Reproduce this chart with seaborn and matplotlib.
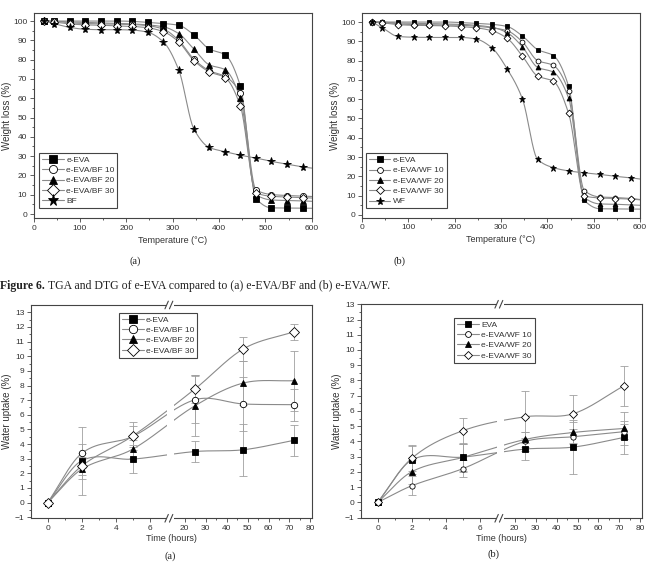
import numpy as np
import pandas as pd
import matplotlib
matplotlib.use("Agg")
import matplotlib.pyplot as plt
import seaborn as sns
from matplotlib.lines import Line2D
from matplotlib.ticker import FixedLocator, MultipleLocator

sns.set_theme(style="ticks")
plt.rcParams['font.family'] = ['Liberation Sans', 'DejaVu Sans']

# ---------------- data ----------------
# TGA: temperatures of the markers; the last value (600) is the line end only
temps = [22, 44, 78, 112, 145, 179, 213, 246, 280, 313, 346, 379, 413, 446, 480, 513, 547, 581, 600]

bf_eva   = [100, 100, 100, 100, 100, 100, 99.8, 99.3, 98.7, 97.8, 92.8, 85.5, 82.5, 66.4, 8.0, 3.2, 3.1, 3.0, 3.0]
bf_bf10  = [100, 100, 99.0, 98.7, 98.5, 98.4, 98.2, 97.6, 95.8, 90.0, 80.2, 74.3, 71.3, 62.5, 12.5, 10.1, 9.6, 9.3, 9.1]
bf_bf20  = [100, 99.8, 99.5, 99.3, 99.0, 98.8, 98.5, 98.0, 97.0, 93.5, 85.4, 77.3, 74.8, 59.9, 10.0, 7.3, 7.0, 6.8, 6.6]
bf_bf30  = [100, 99.5, 98.5, 98.0, 97.8, 97.5, 97.2, 96.5, 94.5, 89.2, 79.5, 73.7, 70.7, 56.1, 11.0, 9.2, 8.8, 8.5, 8.3]
bf_fiber = [100, 98.7, 96.7, 95.7, 95.5, 95.5, 95.3, 94.2, 89.2, 74.8, 44.0, 34.5, 32.3, 30.5, 29.0, 27.3, 25.8, 24.4, 23.8]

wf_eva   = [100, 100, 100, 100, 100, 100, 99.7, 99.3, 98.8, 97.7, 92.8, 85.7, 82.6, 66.7, 7.5, 3.2, 3.1, 3.0, 3.0]
wf_wf10  = [100, 100, 99.0, 98.7, 98.6, 98.5, 98.3, 97.8, 97.0, 95.5, 89.8, 80.0, 77.5, 64.2, 12.5, 9.3, 9.0, 8.5, 8.0]
wf_wf20  = [100, 99.8, 99.5, 99.3, 99.2, 99.0, 98.8, 98.3, 97.3, 94.5, 87.2, 76.5, 74.0, 60.5, 9.0, 5.7, 5.5, 5.2, 5.0]
wf_wf30  = [100, 99.6, 98.6, 98.3, 98.2, 98.0, 97.6, 97.0, 95.5, 91.6, 82.4, 72.0, 69.3, 52.6, 9.8, 8.8, 8.5, 8.2, 7.8]
wf_fiber = [100, 97.0, 92.5, 92.1, 92.0, 92.0, 92.0, 91.2, 86.7, 75.8, 60.3, 28.8, 24.5, 22.8, 21.8, 21.0, 20.0, 19.2, 18.6]

labels_bf = ["e-EVA", "e-EVA/BF 10", "e-EVA/BF 20", "e-EVA/BF 30", "BF"]
labels_wf = ["e-EVA", "e-EVA/WF 10", "e-EVA/WF 20", "e-EVA/WF 30", "WF"]

# Water uptake
hours = [0, 2, 5, 25, 48, 72]
wu_bf_eva  = [0, 2.86, 2.97, 3.49, 3.61, 4.25]
wu_bf_bf10 = [0, 3.36, 4.52, 7.03, 6.74, 6.69]
wu_bf_bf20 = [0, 2.28, 3.65, 6.62, 8.17, 8.33]
wu_bf_bf30 = [0, 2.50, 4.55, 7.77, 10.50, 11.67]
err_bf_eva  = [0, 0.50, 0.95, 0.72, 1.77, 1.07]
err_bf_bf10 = [0, 1.78, 0.70, 1.60, 1.85, 1.10]
err_bf_bf20 = [0, 1.75, 0.60, 2.10, 1.50, 2.05]
err_bf_bf30 = [0, 0.60, 0.95, 0.95, 0.83, 0.55]

wu_wf_eva  = [0, 2.78, 2.97, 3.50, 3.63, 4.26]
wu_wf_wf10 = [0, 1.09, 2.21, 4.00, 4.31, 4.64]
wu_wf_wf20 = [0, 2.01, 2.95, 4.13, 4.59, 4.85]
wu_wf_wf30 = [0, 2.89, 4.70, 5.62, 5.82, 7.64]
err_wf_eva  = [0, 0.90, 0.95, 0.72, 1.75, 1.10]
err_wf_wf10 = [0, 0.62, 0.55, 0.60, 0.50, 0.50]
err_wf_wf20 = [0, 0.80, 0.90, 0.50, 0.70, 1.05]
err_wf_wf30 = [0, 0.85, 0.85, 1.70, 1.20, 1.32]

labels_wu_bf = ["e-EVA", "e-EVA/BF 10", "e-EVA/BF 20", "e-EVA/BF 30"]
labels_wu_wf = ["EVA", "e-EVA/WF 10", "e-EVA/WF 20", "e-EVA/WF 30"]

# ---------------- styles ----------------
LINE = "#8a8a8a"
SPINE = "#444444"
TXT = "#333333"
marker_styles = [("s", "black"), ("o", "white"), ("^", "black"), ("D", "white"), ("*", "black")]


def hermite(x, y, m, xs):
    idx = np.clip(np.searchsorted(x, xs) - 1, 0, len(x) - 2)
    h = x[idx + 1] - x[idx]
    t = (xs - x[idx]) / h
    h00 = 2 * t**3 - 3 * t**2 + 1; h10 = t**3 - 2 * t**2 + t
    h01 = -2 * t**3 + 3 * t**2; h11 = t**3 - t**2
    return h00 * y[idx] + h10 * h * m[idx] + h01 * y[idx + 1] + h11 * h * m[idx + 1]


def pchip(x, y, xs):
    x = np.asarray(x, float); y = np.asarray(y, float)
    h = np.diff(x); d = np.diff(y) / h
    n = len(x); m = np.zeros(n)
    for k in range(1, n - 1):
        if d[k - 1] * d[k] > 0:
            w1 = 2 * h[k] + h[k - 1]; w2 = h[k] + 2 * h[k - 1]
            m[k] = (w1 + w2) / (w1 / d[k - 1] + w2 / d[k])
    def endslope(h0, h1, d0, d1):
        s = ((2 * h0 + h1) * d0 - h0 * d1) / (h0 + h1)
        if np.sign(s) != np.sign(d0):
            s = 0.0
        elif np.sign(d0) != np.sign(d1) and abs(s) > abs(3 * d0):
            s = 3 * d0
        return s
    m[0] = endslope(h[0], h[1], d[0], d[1])
    m[-1] = endslope(h[-1], h[-2], d[-1], d[-2])
    return hermite(x, y, m, xs)


def cardinal(x, y, xs):
    x = np.asarray(x, float); y = np.asarray(y, float)
    n = len(x); m = np.zeros(n)
    m[0] = (y[1] - y[0]) / (x[1] - x[0])
    m[-1] = (y[-1] - y[-2]) / (x[-1] - x[-2])
    for k in range(1, n - 1):
        m[k] = (y[k + 1] - y[k - 1]) / (x[k + 1] - x[k - 1])
    return hermite(x, y, m, xs)


def style_axes(ax):
    for s in ax.spines.values():
        s.set_color(SPINE); s.set_linewidth(0.8)
    ax.tick_params(which="both", direction="out", colors=SPINE, labelcolor=TXT,
                   labelsize=6, top=False, right=False, width=0.6)
    ax.tick_params(which="major", length=3, pad=1.5)
    ax.tick_params(which="minor", length=1.6)


def make_legend(ax, labels, styles, ms, loc, anchor):
    handles = [Line2D([], [], color=LINE, lw=0.8, marker=mk, ms=(ms * 1.4 if mk == "*" else ms),
                      mfc=fc, mec="black", mew=0.6) for mk, fc in styles]
    lg = ax.legend(handles, labels, loc=loc, bbox_to_anchor=anchor, fontsize=6,
                   frameon=True, fancybox=False, framealpha=1, edgecolor=SPINE,
                   handlelength=2.6, handletextpad=0.3, borderpad=0.35, labelspacing=0.3,
                   borderaxespad=0)
    lg.get_frame().set_linewidth(0.8)
    lg.set_zorder(20)
    for t in lg.get_texts():
        t.set_color(TXT)
    return lg


fig = plt.figure(figsize=(6.52, 5.62), dpi=100)

# ---------------- TGA panels ----------------
def tga_panel(rect, series, labels, ylim, ms, leg_anchor, leg_ms):
    ax = fig.add_axes(rect)
    xs = np.linspace(temps[0], temps[-1], 800)
    for vals, (mk, fc) in zip(series, marker_styles):
        ys = pchip(temps, vals, xs)
        sns.lineplot(x=xs, y=ys, ax=ax, color=LINE, lw=0.8, estimator=None, sort=False)
        sz = ms * 1.35 if mk == "*" else ms
        ax.plot(temps[:-1], vals[:-1], ls="none", marker=mk, ms=sz, mfc=fc, mec="black", mew=0.6, zorder=4)
    ax.set_xlim(0, 600)
    ax.set_ylim(*ylim)
    ax.xaxis.set_major_locator(MultipleLocator(100))
    ax.xaxis.set_minor_locator(MultipleLocator(50))
    ax.yaxis.set_major_locator(FixedLocator(np.arange(0, 101, 10)))
    ax.yaxis.set_minor_locator(FixedLocator(np.arange(5, 101, 10)))
    style_axes(ax)
    ax.set_xlabel("Temperature (°C)", fontsize=6.5, color=TXT, labelpad=3)
    ax.set_ylabel("Weight loss (%)", fontsize=7, color=TXT, labelpad=1)
    make_legend(ax, labels, marker_styles, leg_ms, "lower left", leg_anchor)
    return ax

tga_panel([0.0514, 0.6116, 0.4267, 0.3658], [bf_eva, bf_bf10, bf_bf20, bf_bf30, bf_fiber], labels_bf,
          (-2.2, 104.3), 4.4, (0.02, 0.05), 5.8)
tga_panel([0.5552, 0.6121, 0.4264, 0.3642], [wf_eva, wf_wf10, wf_wf20, wf_wf30, wf_fiber], labels_wf,
          (-1.6, 104.5), 3.5, (0.014, 0.047), 4.2)

# ---------------- water uptake panels (broken x axis) ----------------
B1, B2, K, EPS = 7.2, 13.1, 0.1235, 1e-3
U2 = B1 + (B2 - B1) * EPS

def fwd(t):
    t = np.asarray(t, float)
    return np.where(t <= B1, t, np.where(t < B2, B1 + (t - B1) * EPS, U2 + (t - B2) * K))

def inv(u):
    u = np.asarray(u, float)
    return np.where(u <= B1, u, np.where(u < U2, B1 + (u - B1) / EPS, B2 + (u - U2) / K))


def wu_panel(rect, series, errs, labels, ylim, ms, leg_anchor, leg_ms):
    ax = fig.add_axes(rect)
    ax.set_xscale("function", functions=(fwd, inv))
    uh = fwd(hours)
    us = np.linspace(uh[0], uh[-1], 600)
    for vals, err, (mk, fc) in zip(series, errs, marker_styles[:4]):
        ys = cardinal(uh, vals, us)
        sns.lineplot(x=inv(us), y=ys, ax=ax, color=LINE, lw=0.8, estimator=None, sort=False)
        e = np.array(err, float)
        mask = e > 0
        ax.errorbar(np.array(hours)[mask], np.array(vals)[mask], yerr=e[mask], fmt="none",
                    ecolor="#a0a0a0", elinewidth=0.6, capsize=2.6, capthick=0.6, zorder=3)
        ax.plot(hours, vals, ls="none", marker=mk, ms=ms, mfc=fc, mec="black", mew=0.6, zorder=5)
    ax.set_xlim(-1, 80.6)
    ax.set_ylim(*ylim)
    ax.xaxis.set_major_locator(FixedLocator([0, 2, 4, 6, 20, 30, 40, 50, 60, 70, 80]))
    ax.xaxis.set_minor_locator(FixedLocator([1, 3, 5, 7, 25, 35, 45, 55, 65, 75]))
    ax.xaxis.set_major_formatter(matplotlib.ticker.FormatStrFormatter("%d"))
    ax.xaxis.set_minor_formatter(matplotlib.ticker.NullFormatter())
    ax.yaxis.set_major_locator(FixedLocator(np.arange(-1, 14, 1)))
    ax.yaxis.set_minor_locator(FixedLocator(np.arange(-0.5, 13.5, 1)))
    style_axes(ax)
    ax.set_xlabel("Time (hours)", fontsize=6.5, color=TXT, labelpad=2)
    ax.set_ylabel("Water uptake (%)", fontsize=7, color=TXT, labelpad=2)
    # axis break
    g0, g1 = inv(B1 - 0.2), inv(B1 + 0.25)
    ax.axvspan(g0, g1, ymin=-0.02, ymax=1.02, color="white", zorder=6, clip_on=False, lw=0)
    xb = ax.transAxes.inverted().transform(ax.transData.transform((B1, 0)))[0]
    for yb in (0.0, 1.0):
        for dx in (-0.012, 0.004):
            ax.plot([xb + dx - 0.006, xb + dx + 0.006], [yb - 0.018, yb + 0.018], transform=ax.transAxes,
                    color=SPINE, lw=0.8, clip_on=False, zorder=7)
    make_legend(ax, labels, marker_styles[:4], leg_ms, "upper left", leg_anchor)
    return ax

wu_panel([0.0471, 0.0778, 0.431, 0.3795], [wu_bf_eva, wu_bf_bf10, wu_bf_bf20, wu_bf_bf30],
         [err_bf_eva, err_bf_bf10, err_bf_bf20, err_bf_bf30], labels_wu_bf, (-1.07, 13.5), 4.6,
         (0.314, 0.963), 6.0)
wu_panel([0.5532, 0.0778, 0.431, 0.3808], [wu_wf_eva, wu_wf_wf10, wu_wf_wf20, wu_wf_wf30],
         [err_wf_eva, err_wf_wf10, err_wf_wf20, err_wf_wf30], labels_wu_wf, (-1.04, 13.0), 3.8,
         (0.332, 0.936), 4.2)

# ---------------- captions ----------------
SERIF = ['Liberation Serif', 'DejaVu Serif']
W, H = 652, 562
for txt, x, y in [("(a)", 135, 261), ("(b)", 400, 261), ("(a)", 170, 556), ("(b)", 493, 554)]:
    fig.text(x / W, 1 - y / H, txt, family=SERIF, fontsize=7.5, color="#222222", ha="center", va="center")

t1 = fig.text(0.0, 1 - 286 / H, "Figure 6.", family=SERIF, fontsize=8.5, weight="bold",
              color="#222222", ha="left", va="center")
r = fig.canvas.get_renderer()
bb = t1.get_window_extent(renderer=r)
fig.text(bb.x1 / W + 3.0 / W, 1 - 286 / H, "TGA and DTG of e-EVA compared to (a) e-EVA/BF and (b) e-EVA/WF.",
         family=SERIF, fontsize=8.5, color="#222222", ha="left", va="center")

fig.savefig("out.png", dpi=100)
